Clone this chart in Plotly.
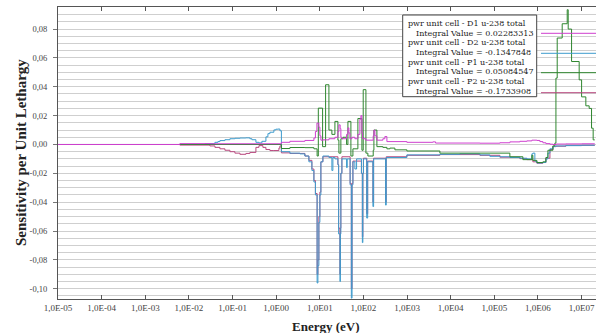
import plotly.graph_objects as go

# ---- sensitivity profiles (group lower energy in eV, sensitivity per unit lethargy) ----
d1_energy = [1e-5, 6.2e-3, 0.0303, 1.318, 2.065, 4.556, 7.33, 7.93, 8.59, 9.53, 10.05, 10.59,
             11.78, 16.17, 22.2, 26.0, 27.4, 29.3, 30.4, 32.1, 41.1, 44.1, 46.4, 48.9, 54.4,
             63.7, 74.6, 83.0, 87.5, 92.3, 95.7, 114, 167.5, 173.8, 183, 203.5, 279, 310, 345,
             990, 3900, 4500, 4.67e4, 1.34e5, 2.27e5, 3.85e5, 5.57e5, 7.25e5, 9.44e5, 1.107e6,
             1.297e6, 1.52e6, 1.88e6, 2.2e6, 2.58e6, 4.37e6, 1.0e7, 2.0e7]
d1_sens = [0, 0.0006, 0.0005, 0.0015, 0.0022, 0.0028, 0.0045, 0.009, 0.0148, 0.012, 0.006, 0.003,
           0.0032, 0.004, 0.005, 0.009, 0.0136, 0.011, 0.005, 0.004, 0.007, 0.0115, 0.008, 0.004,
           0.005, 0.004, 0.007, 0.0175, 0.020, 0.008, 0.004, 0.003, 0.006, 0.010, 0.006, 0.003,
           0.004, 0.0055, 0.002, 0.0015, 0.0018, 0.0010, 0.0009, 0.0012, 0.0018, 0.0022, 0.0025,
           0.0030, 0.0028, 0.0020, 0.0012, 0.0006, 0.0002, 0.0, 0.0003, 0.0004, 0.0005, 0.0005]

d2_energy = [1e-5, 0.0179, 0.0233, 0.0303, 0.0395, 0.0462, 0.0514, 0.0669, 0.0871, 0.1134, 0.1476,
             0.2025, 0.25, 0.278, 0.3436, 0.4027, 0.471, 0.582, 0.647, 0.719, 0.887, 0.986, 1.096,
             1.219, 1.318, 2.065, 3.50, 4.556, 5.62, 6.59, 7.33, 7.93, 8.68, 9.05, 9.53, 10.05,
             10.59, 11.78, 16.17, 18.93, 19.96, 22.2, 26.0, 27.0, 29.0, 29.6, 30.4, 32.1, 41.1,
             42.5, 49.5, 52.8, 54.8, 57.4, 63.7, 69.7, 90.0, 94.5, 97.0, 100.0, 119, 125, 165, 171,
             322, 333, 990, 5650, 1.62e4, 4.67e4, 7.9e4, 1.34e5, 2.27e5, 3.85e5, 5.57e5, 7.25e5,
             7.64e5, 8.49e5, 9.44e5, 1.297e6, 1.52e6, 1.69e6, 1.88e6, 2.2e6, 2.58e6, 4.37e6,
             1.0e7, 2.0e7]
d2_sens = [0, 0, 0.0005, 0.0006, 0.0015, 0.002, 0.0027, 0.0033, 0.004, 0.0043, 0.0045, 0.0046,
           0.0040, 0.0033, 0.0015, 0.0011, 0.0022, 0.0053, 0.0075, 0.0085, 0.0101, 0.0106, 0.0107,
           0.0095, -0.005, -0.006, -0.0065, -0.008, -0.012, -0.018, -0.026, -0.035, -0.096,
           -0.084, -0.054, -0.035, -0.012, -0.008, -0.009, -0.018, -0.009, -0.010, -0.014, -0.062,
           -0.095, -0.062, -0.020, -0.010, -0.016, -0.010, -0.028, -0.1065, -0.028, -0.012,
           -0.017, -0.010, -0.020, -0.068, -0.020, -0.010, -0.051, -0.012, -0.043, -0.010, -0.042,
           -0.009, -0.0072, -0.0068, -0.0065, -0.0072, -0.0082, -0.0085, -0.009, -0.0095, -0.010,
           -0.0065, -0.006, -0.0115, -0.0128, -0.0125, -0.010, -0.006, -0.003, -0.0015, -0.001,
           -0.0008, -0.0005, -0.0005]

p1_energy = [1e-5, 1.318, 2.065, 4.556, 7.33, 8.68, 9.25, 11.59, 13.58, 16.17, 18.93, 22.2, 26.0,
             27.4, 30.4, 33.8, 41.1, 44.1, 51.6, 57.4, 74.6, 92.3, 98.8, 114, 126.5, 167.5, 173.8,
             203.5, 279, 345, 404, 526, 990, 5650, 4.67e4, 2.27e5, 4.51e5, 7.25e5, 7.64e5, 9.44e5,
             1.297e6, 1.52e6, 1.69e6, 2.2e6, 2.44e6, 2.58e6, 2.76e6, 3.59e6, 4.68e6, 4.93e6,
             5.89e6, 8.8e6, 1.0e7, 1.25e7, 1.49e7, 1.69e7, 1.84e7, 2.0e7]
p1_sens = [0, -0.0028, -0.0021, -0.0022, -0.003, -0.008, 0.0252, -0.0015, 0.0414, 0.010, 0.007,
           0.016, 0.003, -0.006, 0.004, 0.005, 0.0, 0.016, -0.008, -0.003, 0.018, -0.004, 0.038,
           -0.006, -0.008, -0.004, 0.010, -0.0015, -0.002, -0.003, -0.0025, -0.0037, -0.0045,
           -0.006, -0.006, -0.0085, -0.0105, -0.0075, -0.011, -0.0125, -0.012, -0.009, -0.004,
           -0.001, 0.001, 0.046, 0.0738, 0.0837, 0.0934, 0.080, 0.0575, 0.0448, 0.033, 0.0268,
           0.025, 0.0113, 0.0032, 0.0032]

p2_energy = [1e-5, 6.2e-3, 0.0303, 0.0395, 0.0514, 0.0669, 0.0871, 0.1134, 0.1476, 0.2025, 0.25,
             0.3436, 0.4027, 0.4966, 0.582, 0.719, 0.887, 1.156, 1.219, 1.318, 2.065, 4.556, 5.62,
             6.59, 7.33, 7.93, 8.68, 9.05, 9.53, 10.05, 10.59, 11.78, 26.0, 27.0, 29.0, 29.6, 30.4,
             32.1, 49.5, 52.8, 54.8, 57.4, 90.0, 94.5, 97.0, 100.0, 119, 125, 165, 171, 322, 333,
             990, 5650, 4.67e4, 1.34e5, 3.85e5, 5.57e5, 7.64e5, 9.44e5, 1.297e6, 1.52e6, 1.88e6,
             2.2e6, 4.37e6, 2.0e7]
p2_sens = [0, -0.0004, -0.001, -0.002, -0.003, -0.004, -0.005, -0.006, -0.0068, -0.0062, -0.0055,
           -0.002, -0.0008, -0.002, -0.0035, -0.0042, -0.0042, -0.0025, -0.001, -0.0058, -0.0062,
           -0.008, -0.011, -0.017, -0.025, -0.034, -0.09, -0.08, -0.05, -0.033, -0.012, -0.0085,
           -0.014, -0.058, -0.09, -0.058, -0.02, -0.0085, -0.027, -0.1, -0.027, -0.0115, -0.02,
           -0.064, -0.02, -0.0095, -0.048, -0.0115, -0.04, -0.0095, -0.04, -0.0085, -0.0075,
           -0.007, -0.0075, -0.0088, -0.0098, -0.0105, -0.012, -0.013, -0.0125, -0.0095, -0.0035,
           -0.0012, -0.0006, -0.0006]

legend_names = ["pwr unit cell - D1 u-238 total", "pwr unit cell - D2 u-238 total",
                "pwr unit cell - P1 u-238 total", "pwr unit cell - P2 u-238 total"]
integral_values = ["0.02283313", "-0.1347848", "0.05084547", "-0.1733908"]

x_tick_vals = [1e-5, 1e-4, 1e-3, 1e-2, 1e-1, 1e0, 1e1, 1e2, 1e3, 1e4, 1e5, 1e6, 1e7]
x_tick_text = ["1,0E-05", "1,0E-04", "1,0E-03", "1,0E-02", "1,0E-01", "1,0E00", "1,0E01",
               "1,0E02", "1,0E03", "1,0E04", "1,0E05", "1,0E06", "1,0E07"]
y_tick_vals = [-0.10, -0.08, -0.06, -0.04, -0.02, 0.0, 0.02, 0.04, 0.06, 0.08]
y_tick_text = ["-0,10", "-0,08", "-0,06", "-0,04", "-0,02", "0,00", "0,02", "0,04", "0,06", "0,08"]

C_D1 = "#cf3fcf"
C_D2 = "#3d9bcd"
C_P1 = "#2e862e"
C_P2 = "#b8487e"

series = {
    "D1": (d1_energy, d1_sens, C_D1),
    "D2": (d2_energy, d2_sens, C_D2),
    "P1": (p1_energy, p1_sens, C_P1),
    "P2": (p2_energy, p2_sens, C_P2),
}

fig = go.Figure()
# back-to-front drawing order
for key in ["P2", "D2", "P1", "D1"]:
    e, s, c = series[key]
    fig.add_trace(go.Scatter(x=e, y=s, mode="lines", line=dict(color=c, width=1, shape="hv"),
                             showlegend=False, hoverinfo="skip"))

W, H = 596, 333
ML, MR, MT, MB = 58, 0, 7, 34
PW, PH = W - ML - MR, H - MT - MB


def px(x):
    return (x - ML) / PW


def py(y):
    return (H - MB - y) / PH


serif = "Liberation Serif, Times New Roman, serif"
legend_font = dict(family="DejaVu Serif, serif", size=8, color="#222222")
shapes = []
annotations = []

# legend box with text entries and line samples
shapes.append(dict(type="rect", xref="paper", yref="paper", x0=px(402.7), x1=px(536.7),
                   y0=py(96.7), y1=py(15), line=dict(color="#444444", width=1),
                   fillcolor="white", layer="above"))
text_rows = [23.3, 33.0, 42.7, 52.4, 62.1, 71.8, 81.5, 91.2]
sample_rows = [33.3, 53.3, 72.7, 92.7]
colors = [C_D1, C_D2, C_P1, C_P2]
for i in range(4):
    annotations.append(dict(xref="paper", yref="paper", x=px(405.5), y=py(text_rows[2 * i]),
                            xanchor="left", yanchor="middle", showarrow=False,
                            text=legend_names[i], font=legend_font))
    annotations.append(dict(xref="paper", yref="paper", x=px(413.5), y=py(text_rows[2 * i + 1]),
                            xanchor="left", yanchor="middle", showarrow=False,
                            text="Integral Value = " + integral_values[i], font=legend_font))
    shapes.append(dict(type="line", xref="paper", yref="paper", x0=px(541), x1=1.0,
                       y0=py(sample_rows[i]), y1=py(sample_rows[i]),
                       line=dict(color=colors[i], width=1), layer="above"))

# axis titles
annotations.append(dict(xref="paper", yref="paper", x=px(326), y=py(326), xanchor="center",
                        yanchor="middle", showarrow=False, text="<b>Energy (eV)</b>",
                        font=dict(family=serif, size=13, color="#222222")))
annotations.append(dict(xref="paper", yref="paper", x=px(21), y=py(153), xanchor="center",
                        yanchor="middle", showarrow=False, textangle=-90,
                        text="<b>Sensitivity per Unit Lethargy</b>",
                        font=dict(family=serif, size=15, color="#222222")))

fig.update_layout(
    width=W, height=H,
    margin=dict(l=ML, r=MR, t=MT, b=MB, pad=0),
    paper_bgcolor="white", plot_bgcolor="white",
    shapes=shapes, annotations=annotations,
    xaxis=dict(type="log", range=[-5, 7.33], tickmode="array", tickvals=x_tick_vals,
               ticktext=x_tick_text, ticks="inside", ticklen=4, tickcolor="#555555",
               showline=True, linecolor="#555555", linewidth=1, mirror="ticks",
               showgrid=False, zeroline=False,
               tickfont=dict(family=serif, size=9, color="#444444")),
    yaxis=dict(range=[-0.1071, 0.0953], tickmode="array", tickvals=y_tick_vals,
               ticktext=y_tick_text, ticks="outside", ticklen=4, tickcolor="#777777",
               showline=True, linecolor="#555555", linewidth=1, mirror=False,
               showgrid=True, gridcolor="#cfcfcf", gridwidth=1, zeroline=False,
               minor=dict(tickmode="linear", tick0=0, dtick=0.005, showgrid=True,
                          gridcolor="#cfcfcf", gridwidth=1, ticks=""),
               ticklabelstandoff=4,
               tickfont=dict(family=serif, size=8.5, color="#444444")),
)

fig.write_html("out.html")
